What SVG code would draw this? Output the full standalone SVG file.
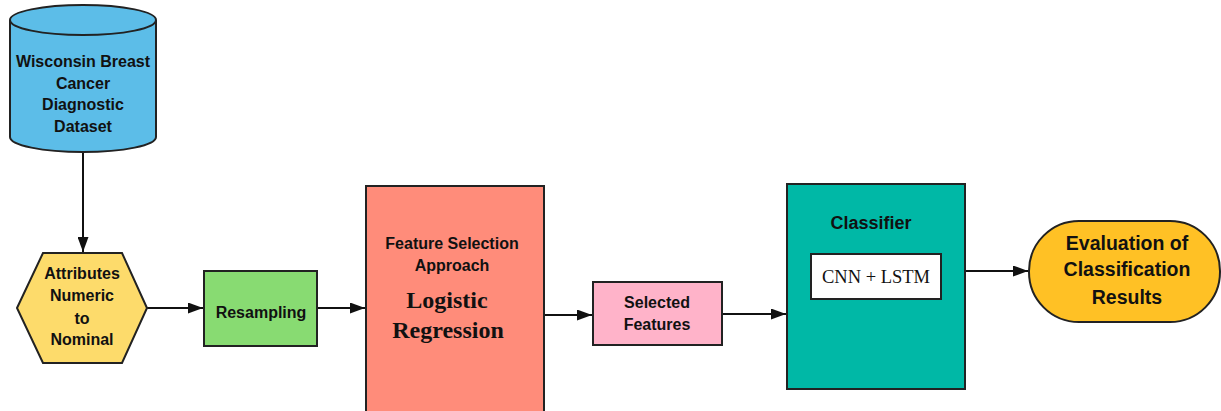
<svg xmlns="http://www.w3.org/2000/svg" width="1221" height="411" viewBox="0 0 1221 411">
<style>
.s{stroke:#222;stroke-width:2}
.t{font-family:"Liberation Sans",Arial,sans-serif;font-weight:bold;fill:#111;text-anchor:middle;dominant-baseline:central}
.r{font-family:"Liberation Serif","Times New Roman",serif;fill:#111;text-anchor:middle;dominant-baseline:central}
.c{stroke:#111;stroke-width:2;fill:none;marker-end:url(#a)}
</style>
<defs>
<marker id="a" viewBox="0 0 15 11" refX="15" refY="5.5" markerWidth="15" markerHeight="11" markerUnits="userSpaceOnUse" orient="auto">
<path d="M0,0L15,5.5L0,11z" fill="#111"/>
</marker>
</defs>
<rect width="1221" height="411" fill="#fff"/>
<g id="connectors">
<path class="c" d="M83,152V252"/>
<path class="c" d="M147,308H203"/>
<path class="c" d="M317,308H365"/>
<path class="c" d="M544,315H592"/>
<path class="c" d="M722,314H786"/>
<path class="c" d="M966,271H1028"/>
</g>
<g id="dataset">
<path class="s" fill="#5CBDE8" d="M10,20V137A73,15 0 0 0 156,137V20A73,15 0 0 0 10,20z"/>
<path class="s" fill="none" d="M10,20A73,15 0 0 0 156,20"/>
<text class="t" font-size="16" x="83" y="61">Wisconsin Breast</text>
<text class="t" font-size="16" x="83" y="83">Cancer</text>
<text class="t" font-size="16" x="83" y="104">Diagnostic</text>
<text class="t" font-size="16" x="83" y="126">Dataset</text>
</g>
<g id="attributes">
<path class="s" fill="#FDDB6B" d="M17,308L43,253H122L147,308L122,363H43z"/>
<text class="t" font-size="16" x="82" y="273">Attributes</text>
<text class="t" font-size="16" x="82" y="295">Numeric</text>
<text class="t" font-size="16" x="82" y="318">to</text>
<text class="t" font-size="16" x="82" y="339">Nominal</text>
</g>
<g id="resampling">
<rect class="s" fill="#88DB72" x="204" y="271" width="113" height="75"/>
<text class="t" font-size="16" x="261" y="312">Resampling</text>
</g>
<g id="feature-selection">
<rect class="s" fill="#FF8C7A" x="366" y="186" width="178" height="230"/>
<text class="t" font-size="16" x="452" y="243">Feature Selection</text>
<text class="t" font-size="16" x="452" y="265">Approach</text>
<text class="r" font-size="24" font-weight="bold" x="447" y="300">Logistic</text>
<text class="r" font-size="24" font-weight="bold" x="448" y="330">Regression</text>
</g>
<g id="selected-features">
<rect class="s" fill="#FFB3C9" x="593" y="282" width="129" height="63"/>
<text class="t" font-size="16" x="657" y="302">Selected</text>
<text class="t" font-size="16" x="657" y="324">Features</text>
</g>
<g id="classifier">
<rect class="s" fill="#00B8A6" x="787" y="184" width="178" height="205"/>
<text class="t" font-size="18" x="871" y="223">Classifier</text>
<rect class="s" fill="#fff" x="811" y="254" width="130" height="45"/>
<text class="r" font-size="18.5" x="876" y="277">CNN + LSTM</text>
</g>
<g id="evaluation">
<rect class="s" fill="#FFC125" x="1029" y="221" width="191" height="101" rx="50" ry="50"/>
<text class="t" font-size="19.5" x="1127" y="243">Evaluation of</text>
<text class="t" font-size="19.5" x="1127" y="269">Classification</text>
<text class="t" font-size="19.5" x="1127" y="297">Results</text>
</g>
</svg>
